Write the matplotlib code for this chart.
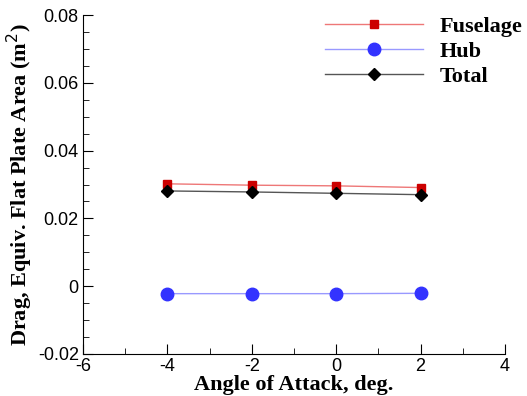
import matplotlib
matplotlib.use("Agg")
import matplotlib.pyplot as plt
from matplotlib.ticker import MultipleLocator, FuncFormatter

# angle of attack (deg) and drag equivalent flat plate area (m^2)
alpha = [-4, -2, 0, 2]
fuselage = [0.0302, 0.0298, 0.0296, 0.0291]
hub = [-0.0022, -0.0022, -0.0022, -0.0021]
total = [0.0281, 0.0278, 0.0274, 0.0270]

fig = plt.figure(figsize=(5.27, 3.96), dpi=100)
ax = fig.add_axes([83 / 527, 1 - 354 / 396, 422 / 527, 339 / 396])

ax.plot(alpha, fuselage, color='#ee7777', lw=1, marker='s', ms=6,
        mfc='#cc0000', mec='#cc0000', label='Fuselage')
ax.plot(alpha, hub, color='#9999ff', lw=1, marker='o', ms=9,
        mfc='#3333ff', mec='#3333ff', label='Hub')
ax.plot(alpha, total, color='#555555', lw=1, marker='D', ms=6,
        mfc='black', mec='black', label='Total')

ax.set_xlim(-6, 4)
ax.set_ylim(-0.02, 0.08)
ax.xaxis.set_major_locator(MultipleLocator(2))
ax.xaxis.set_minor_locator(MultipleLocator(1))
ax.yaxis.set_major_locator(MultipleLocator(0.02))
ax.yaxis.set_minor_locator(MultipleLocator(0.005))
ax.yaxis.set_major_formatter(FuncFormatter(lambda v, p: '0' if abs(v) < 1e-9 else '%.2f' % v))
ax.xaxis.set_major_formatter(FuncFormatter(lambda v, p: '%d' % v))

ax.spines['top'].set_visible(False)
ax.spines['right'].set_visible(False)
ax.tick_params(which='both', direction='in', labelsize=13, pad=3)
ax.tick_params(which='major', length=7)
ax.tick_params(which='minor', length=4)
for lab in ax.get_xticklabels() + ax.get_yticklabels():
    lab.set_family('Liberation Sans')

ax.set_xlabel('Angle of Attack, deg.', family='Liberation Serif',
              fontweight='bold', fontsize=16, labelpad=0)
ax.set_ylabel('Drag, Equiv. Flat Plate Area (m$^2$)', family='Liberation Serif',
              fontweight='bold', fontsize=16, labelpad=2)

ax.legend(loc='upper right', bbox_to_anchor=(1.09, 1.055), frameon=False,
          handlelength=4.4, handletextpad=0.77, labelspacing=0.2,
          prop={'family': 'Liberation Serif', 'weight': 'bold', 'size': 16})

fig.savefig('out.png', dpi=100)
